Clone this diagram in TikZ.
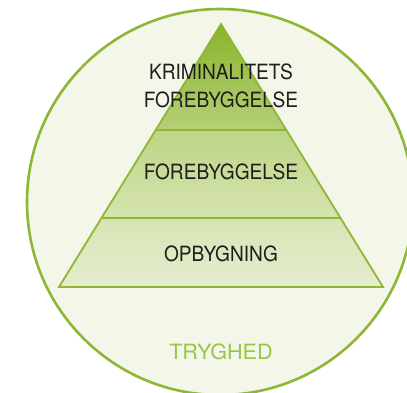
\documentclass[tikz,border=0pt]{standalone}
\usepackage{fontspec}
\setmainfont[FakeStretch=0.91]{TeX Gyre Heros}
\newfontfamily\trygfont[FakeStretch=1.03]{TeX Gyre Heros}
\usepackage{tikz}
\definecolor{ringgreen}{RGB}{141,183,52}
\definecolor{ringfill}{RGB}{243,246,233}
\definecolor{labelgreen}{RGB}{156,196,72}
\definecolor{textdark}{RGB}{30,30,30}

\begin{document}
\begin{tikzpicture}[x=1pt,y=-1pt,
	level/.style={draw=ringgreen,line width=1.8pt,line join=miter},
	lbl/.style={anchor=base,text=textdark,font=\fontsize{21}{25}\selectfont,inner sep=0pt}]
	\useasboundingbox (0,0) rectangle (407,393);
	\clip (0,0) rectangle (407,393);
	\draw[ringgreen,fill=ringfill,line width=2.6pt] (220,202) circle (193);
	\coordinate (apex) at (221,24);
	\coordinate (ul) at (156,130);
	\coordinate (ur) at (286,130);
	\coordinate (ml) at (101,218);
	\coordinate (mr) at (341,218);
	\coordinate (bl) at (59,287);
	\coordinate (br) at (383,287);
	\shade[top color={rgb,255:red,138;green,180;blue,42},bottom color={rgb,255:red,182;green,208;blue,120}] (apex) -- (ur) -- (ul) -- cycle;
	\shade[top color={rgb,255:red,189;green,213;blue,133},bottom color={rgb,255:red,214;green,228;blue,175}] (ul) -- (ur) -- (mr) -- (ml) -- cycle;
	\shade[top color={rgb,255:red,214;green,229;blue,180},bottom color={rgb,255:red,229;green,237;blue,207}] (ml) -- (mr) -- (br) -- (bl) -- cycle;
	\draw[level] (apex) -- (br) -- (bl) -- cycle;
	\draw[level] (ul) -- (ur);
	\draw[level] (ml) -- (mr);
	\node[lbl] (krim) at (221,80) {KRIMINALITETS};
	\node[lbl] (foreb1) at (221,108) {FOREBYGGELSE};
	\node[lbl] (foreb2) at (221,179) {FOREBYGGELSE};
	\node[lbl] (opbyg) at (221,261) {OPBYGNING};
	\node[lbl,text=labelgreen,font=\trygfont\fontsize{21}{25}\selectfont] (tryg) at (221,359) {TRYGHED};
\end{tikzpicture}
\end{document}
